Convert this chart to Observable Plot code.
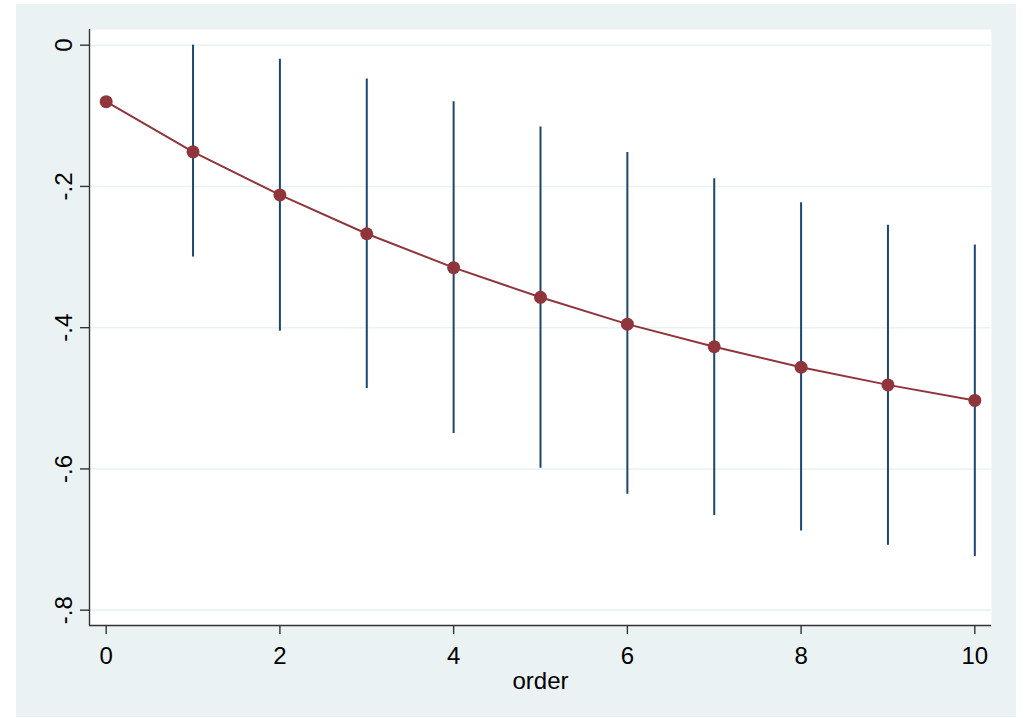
<!DOCTYPE html>
<html>
<head>
<meta charset="utf-8">
<script src="https://cdn.jsdelivr.net/npm/d3@7"></script>
<script src="https://cdn.jsdelivr.net/npm/@observablehq/plot@0.6"></script>
<style>
  html, body { margin: 0; padding: 0; background: #ffffff; }
  #chart { padding-left: 16px; padding-top: 4px; }
</style>
</head>
<body>
<div id="chart"></div>
<script>
// Lag order and the estimated coefficient with its confidence interval
const order = [0, 1, 2, 3, 4, 5, 6, 7, 8, 9, 10];
const coef = [-0.080, -0.151, -0.212, -0.267, -0.315, -0.357, -0.395, -0.427, -0.456, -0.481, -0.503];
const ciLow = [null, -0.300, -0.405, -0.486, -0.550, -0.599, -0.636, -0.666, -0.688, -0.708, -0.724];
const ciHigh = [null, 0.000, -0.020, -0.048, -0.080, -0.116, -0.152, -0.189, -0.223, -0.255, -0.283];

const xTicks = [0, 2, 4, 6, 8, 10];
const yTicks = [0, -0.2, -0.4, -0.6, -0.8];
const yTickLabels = ["0", "-.2", "-.4", "-.6", "-.8"];
const xTitle = "order";

const rows = order.map((o, i) => ({order: o, coef: coef[i], lo: ciLow[i], hi: ciHigh[i]}));

const xDomain = [-0.192, 10.192];
const yDomain = [-0.8217, 0.0222];

const navy = "#1a476f";
const maroon = "#90353b";
const band = "#eaf2f3";
const axisColor = "#333333";

const chart = Plot.plot({
  width: 1000,
  height: 713,
  marginLeft: 73,
  marginRight: 25,
  marginTop: 25,
  marginBottom: 92,
  x: {domain: xDomain},
  y: {domain: yDomain},
  style: {
    background: band,
    color: "#000000",
    fontFamily: "'Liberation Sans', Arial, sans-serif",
    fontSize: "24px"
  },
  marks: [
    Plot.frame({fill: "#ffffff", stroke: null}),
    Plot.gridY(yTicks, {stroke: band, strokeOpacity: 1, strokeWidth: 1.6}),
    Plot.ruleX(rows, {x: "order", y1: "lo", y2: "hi", stroke: navy, strokeWidth: 2}),
    Plot.line(rows, {x: "order", y: "coef", stroke: maroon, strokeWidth: 2}),
    Plot.dot(rows, {x: "order", y: "coef", r: 6.5, fill: maroon}),
    Plot.ruleX([xDomain[0]], {stroke: axisColor, strokeWidth: 1.4}),
    Plot.ruleY([yDomain[0]], {stroke: axisColor, strokeWidth: 1.4}),
    Plot.axisY(yTicks, {
      anchor: "left",
      tickSize: 9,
      tickPadding: 9,
      tickRotate: -90,
      stroke: axisColor,
      strokeWidth: 1.4,
      fontSize: 24,
      label: null,
      tickFormat: d => yTickLabels[yTicks.indexOf(d)]
    }),
    Plot.axisX(xTicks, {
      anchor: "bottom",
      tickSize: 9,
      tickPadding: 12,
      stroke: axisColor,
      strokeWidth: 1.4,
      fontSize: 24,
      label: null
    }),
    Plot.text([xTitle], {frameAnchor: "bottom", dy: 56, fontSize: 24, lineAnchor: "middle", fill: "#000000"})
  ]
});

document.getElementById("chart").appendChild(chart);
</script>
</body>
</html>
